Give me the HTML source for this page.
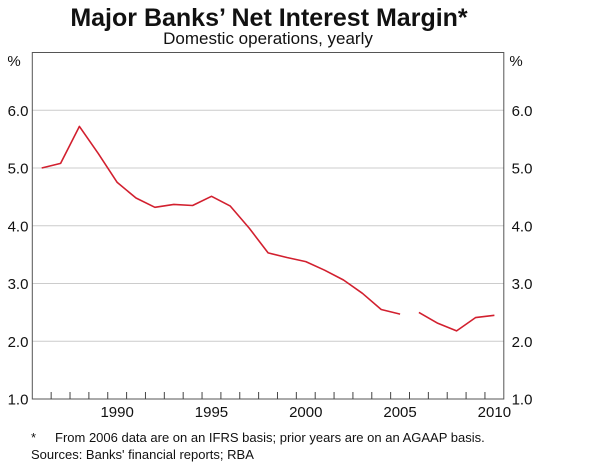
<!DOCTYPE html>
<html><head><meta charset="utf-8"><style>
body{margin:0;background:#fff;}
svg text{font-family:"Liberation Sans",Arial,sans-serif;fill:#111;}
</style></head><body>
<svg width="600" height="467" viewBox="0 0 600 467">
<text x="269" y="26" text-anchor="middle" font-size="25" font-weight="bold">Major Banks’ Net Interest Margin*</text>
<text x="268" y="44" text-anchor="middle" font-size="17">Domestic operations, yearly</text>
<g id="grid"></g>
<rect x="32.3" y="52.5" width="471.5" height="346.5" fill="none" stroke="#555" stroke-width="1"/>
<g id="ticks"></g>
<g id="series"></g>
<text x="14" y="66" text-anchor="middle" font-size="15">%</text>
<text x="516" y="66" text-anchor="middle" font-size="15">%</text>
<text x="31" y="442" font-size="13">*</text>
<text x="55" y="442" font-size="13">From 2006 data are on an IFRS basis; prior years are on an AGAAP basis.</text>
<text x="31" y="459" font-size="13">Sources: Banks' financial reports; RBA</text>
</svg>
<script>
const years1=[1986,1987,1988,1989,1990,1991,1992,1993,1994,1995,1996,1997,1998,1999,2000,2001,2002,2003,2004,2005];
const values1=[5.0,5.08,5.72,5.25,4.75,4.48,4.32,4.37,4.35,4.51,4.34,3.96,3.53,3.45,3.38,3.23,3.06,2.83,2.55,2.47];
const years2=[2006,2007,2008,2009,2010];
const values2=[2.5,2.31,2.18,2.41,2.45];
const yTicks=[1.0,2.0,3.0,4.0,5.0,6.0];
const xLabels=[1990,1995,2000,2005,2010];
const L=32.3,R=503.8,T=52.5,B=399,y0=1986,nY=25;
const cw=(R-L)/nY;
const xs=y=>L+(y-y0+0.5)*cw;
const ys=v=>B-(v-1)/6*(B-T);
const NS='http://www.w3.org/2000/svg';
function mk(tag,attrs,parent,text){const e=document.createElementNS(NS,tag);for(const k in attrs)e.setAttribute(k,attrs[k]);if(text!=null)e.textContent=text;document.getElementById(parent).appendChild(e);return e;}
yTicks.forEach(v=>{
  const y=ys(v);
  if(v>1){const g=mk('line',{x1:L,x2:R,y1:y,y2:y,stroke:'#ccc','stroke-width':1},'grid');
  
  }
  const a=mk('text',{x:18,y:y+5.5,'text-anchor':'middle','font-size':15},'ticks',v.toFixed(1));
  
  
  const b=mk('text',{x:522,y:y+5.5,'text-anchor':'middle','font-size':15},'ticks',v.toFixed(1));
  
  
});
for(let i=1;i<nY;i++){const x=L+i*cw;const t=mk('line',{x1:x,x2:x,y1:B,y2:B-7,stroke:'#444','stroke-width':1},'ticks');
  
  }
xLabels.forEach(yr=>{const t=mk('text',{x:xs(yr),y:417,'text-anchor':'middle','font-size':15},'ticks',yr);
  
  });
function line(yrs,vals,name){const d=yrs.map((y,i)=>(i?'L':'M')+xs(y).toFixed(1)+','+ys(vals[i]).toFixed(1)).join('');
  const p=mk('path',{d:d,fill:'none',stroke:'#d2202f','stroke-width':1.6,'stroke-linejoin':'round'},'series');
  
  }
line(years1,values1,'nim-line-agaap');
line(years2,values2,'nim-line-ifrs');
</script>
</body></html>
